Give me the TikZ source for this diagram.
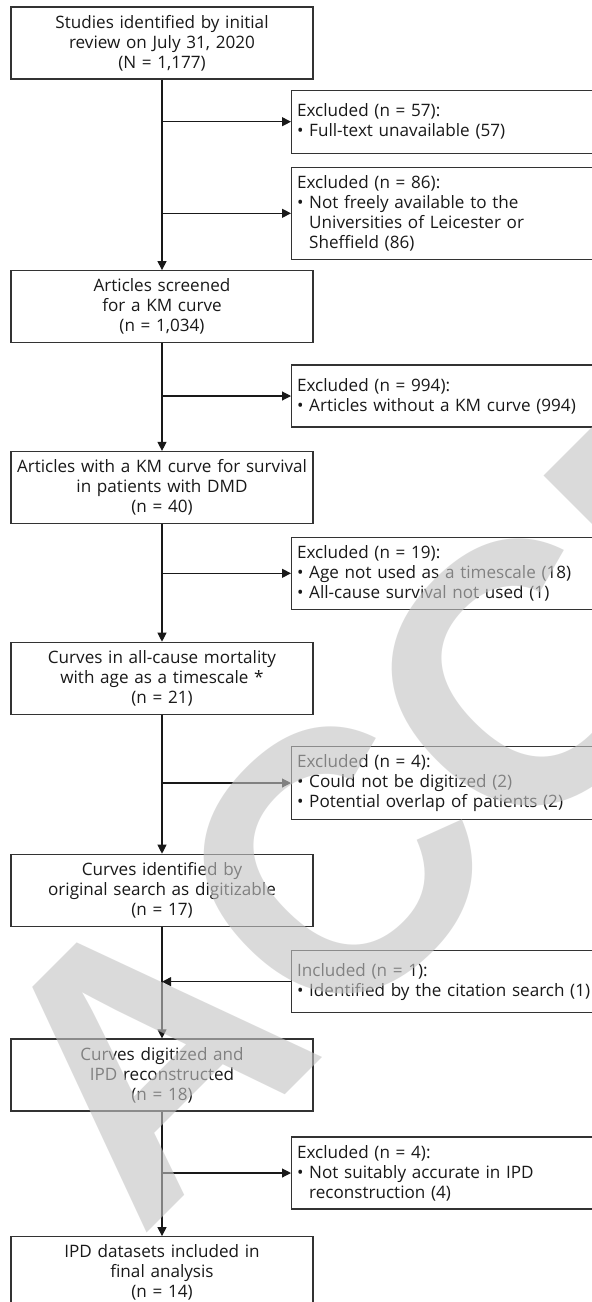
\documentclass[tikz,border=0pt]{standalone}
\usepackage{fontspec}
\setmainfont{Open Sans}
\newfontfamily\wmfont{Liberation Sans}
\usetikzlibrary{arrows.meta}
\begin{document}
\begin{tikzpicture}[x=1pt,y=-1pt,
  mainbox/.style={draw=black!80, line width=1.2pt, minimum width=302pt, minimum height=72pt,
    inner sep=0pt, text width=296pt, align=center, font=\fontsize{17.1}{20}\selectfont, text=black!90},
  sidebox/.style={draw=black!80, line width=1.2pt, anchor=west, minimum width=312pt,
    inner xsep=5.5pt, inner ysep=0pt, text width=301pt, align=left,
    font=\fontsize{17.1}{20}\selectfont, text=black!90},
  conn/.style={draw=black!90, line width=1.1pt},
  arr/.style={conn, -{Triangle[length=9pt,width=9pt]}},
  wmark/.style={rotate=45, anchor=base west, text=black!23, text opacity=0.61, inner sep=0pt,
    font=\wmfont\bfseries\fontsize{370}{370}\selectfont},
]
\useasboundingbox (0,0) rectangle (592,1302);
\begin{scope}
\clip (0,0) rectangle (592,1302);
\fill[white] (0,0) rectangle (592,1302);
% main column
\node[mainbox] (s1) at (162,43) {Studies identified by initial\\review on July 31, 2020\\(N = 1,177)};
\node[mainbox] (s2) at (162,306.7) {Articles screened\\for a KM curve\\(n = 1,034)};
\node[mainbox] (s3) at (162,487.5) {Articles with a KM curve for survival\\in patients with DMD\\(n = 40)};
\node[mainbox] (s4) at (162,678.3) {Curves in all-cause mortality\\with age as a timescale *\\(n = 21)};
\node[mainbox] (s5) at (162,890.3) {Curves identified by\\original search as digitizable\\(n = 17)};
\node[mainbox] (s6) at (162,1075) {Curves digitized and\\IPD reconstructed\\(n = 18)};
\node[mainbox] (s7) at (162,1272.7) {IPD datasets included in\\final analysis\\(n = 14)};
% side boxes
\node[sidebox, minimum height=63pt] (e1) at (291,121.7) {Excluded (n = 57):\\• Full-text unavailable (57)};
\node[sidebox, minimum height=92pt] (e2) at (291,213.3) {Excluded (n = 86):\\• Not freely available to the\\\phantom{•\ }Universities of Leicester or\\\phantom{•\ }Sheffield (86)};
\node[sidebox, minimum height=62pt] (e3) at (291,396) {Excluded (n = 994):\\• Articles without a KM curve (994)};
\node[sidebox, minimum height=72pt] (e4) at (291,573.3) {Excluded (n = 19):\\• Age not used as a timescale (18)\\• All-cause survival not used (1)};
\node[sidebox, minimum height=72.6pt] (e5) at (291,783) {Excluded (n = 4):\\• Could not be digitized (2)\\• Potential overlap of patients (2)};
\node[sidebox, minimum height=62pt] (inc) at (291,981.7) {Included (n = 1):\\• Identified by the citation search (1)};
\node[sidebox, minimum height=72pt] (e6) at (291,1173) {Excluded (n = 4):\\• Not suitably accurate in IPD\\\phantom{•\ }reconstruction (4)};
% connectors
\draw[arr] (s1) -- (s2);
\draw[arr] (s2) -- (s3);
\draw[arr] (s3) -- (s4);
\draw[arr] (s4) -- (s5);
\draw[arr] (s5) -- (s6);
\draw[arr] (s6) -- (s7);
\draw[arr] (s1.south |- e1.west) -- (e1.west);
\draw[arr] (s1.south |- e2.west) -- (e2.west);
\draw[arr] (s2.south |- e3.west) -- (e3.west);
\draw[arr] (s3.south |- e4.west) -- (e4.west);
\draw[arr] (s4.south |- e5.west) -- (e5.west);
\draw[arr] (inc.west) -- (s5.south |- inc.west);
\draw[arr] (s6.south |- e6.west) -- (e6.west);
% watermark
\node[wmark] (wm) at (140,1240) {ACCEPTED};
\end{scope}
\end{tikzpicture}
\end{document}
